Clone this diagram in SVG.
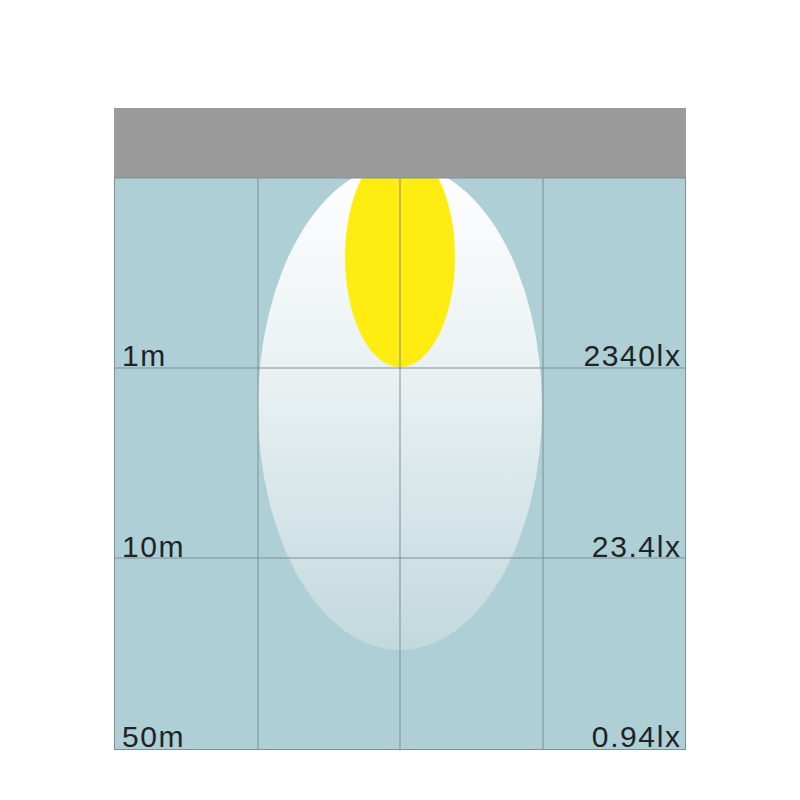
<svg xmlns="http://www.w3.org/2000/svg" width="800" height="800" viewBox="0 0 800 800">
  <defs>
    <linearGradient id="beam" x1="0" y1="0" x2="0" y2="1">
      <stop offset="0" stop-color="#ffffff"/>
      <stop offset="0.45" stop-color="#e8f0f2"/>
      <stop offset="1" stop-color="#c2d9de"/>
    </linearGradient>
    <clipPath id="area">
      <rect x="114" y="178" width="572" height="572"/>
    </clipPath>
    <style>
      .grid { stroke: #7f8f93; stroke-width: 1; fill: none; }
      .lbl { font-family: "Liberation Sans", Arial, sans-serif; font-size: 30px; fill: #1e2426; letter-spacing: 1.6px; }
    </style>
  </defs>
  <rect width="800" height="800" fill="#ffffff"/>
  <g id="fixture">
    <rect x="114" y="108" width="572" height="70" fill="#9a9b9a"/>
  </g>
  <g id="field">
    <rect x="114" y="178" width="572" height="572" fill="#aecfd6"/>
    <g clip-path="url(#area)">
      <ellipse id="flood" cx="400" cy="407" rx="142" ry="243" fill="url(#beam)"/>
      <ellipse id="spot" cx="400" cy="257" rx="55" ry="110" fill="#ffec10"/>
    </g>
  </g>
  <g id="grid">
    <line class="grid" x1="258" y1="178" x2="258" y2="750"/>
    <line class="grid" x1="400" y1="178" x2="400" y2="750"/>
    <line class="grid" x1="543" y1="178" x2="543" y2="750"/>
    <line class="grid" x1="114" y1="368" x2="686" y2="368"/>
    <line class="grid" x1="114" y1="558" x2="686" y2="558"/>
    <rect class="grid" x="114.5" y="178" width="571" height="571.5"/>
  </g>
  <g id="labels">
    <text class="lbl" x="122" y="366">1m</text>
    <text class="lbl" x="681.5" y="366" text-anchor="end">2340lx</text>
    <text class="lbl" x="122" y="557">10m</text>
    <text class="lbl" x="681.5" y="557" text-anchor="end">23.4lx</text>
    <text class="lbl" x="122" y="747">50m</text>
    <text class="lbl" x="681.5" y="747" text-anchor="end">0.94lx</text>
  </g>
</svg>
